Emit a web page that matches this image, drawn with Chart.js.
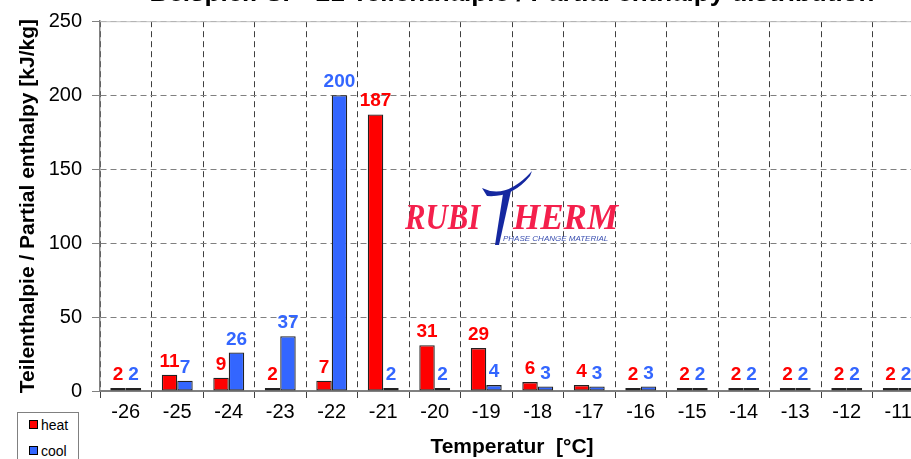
<!DOCTYPE html>
<html>
<head>
<meta charset="utf-8">
<script src="https://cdn.jsdelivr.net/npm/chart.js@4/dist/chart.umd.min.js"></script>
<style>
html,body{margin:0;padding:0;background:#fff;overflow:hidden;width:911px;height:459px;}
#wrap{position:absolute;left:0;top:-40px;width:940px;height:500px;}
#legend{position:absolute;left:17px;top:412px;width:60px;height:60px;border:1px solid #808080;background:#fff;
 font-family:Arial,"Liberation Sans",sans-serif;font-size:14px;color:#000;}
#legend div{position:absolute;left:11px;height:16px;line-height:16px;}
#legend span{display:inline-block;width:7px;height:7px;border:1px solid #000;margin-right:3px;vertical-align:1px;}
</style>
</head>
<body>
<div id="wrap"><canvas id="chart" width="940" height="500"></canvas></div>
<div id="legend"></div>
<script>
const temps = ["-26","-25","-24","-23","-22","-21","-20","-19","-18","-17","-16","-15","-14","-13","-12","-11"];
const heat = [2,11,9,2,7,187,31,29,6,4,2,2,2,2,2,2];
const cool = [2,7,26,37,200,2,2,4,3,3,3,2,2,2,2,2];
const yTicks = [0,50,100,150,200,250];

const font = 'Arial, "Liberation Sans", sans-serif';
const red = '#ff0000';
const blue = '#3366ff';

// value labels above bars
const valueLabels = {
  id:'valueLabels',
  afterDatasetsDraw(chart){
    const c = chart.ctx;
    c.save();
    c.font = 'bold 19px ' + font;
    c.textAlign = 'center';
    c.textBaseline = 'alphabetic';
    chart.data.datasets.forEach((ds,i)=>{
      chart.getDatasetMeta(i).data.forEach((bar,j)=>{
        c.fillStyle = ds.backgroundColor;
        c.fillText(ds.data[j], bar.x, bar.y - 8);
      });
    });
    c.restore();
  }
};

// company logo in the plot + top frame line
const logo = {
  id:'logo',
  beforeDatasetsDraw(chart){
    const c = chart.ctx, a = chart.chartArea;
    c.save();
    c.strokeStyle = '#c0c0c0';
    c.lineWidth = 1;
    c.beginPath();
    c.moveTo(a.left, a.top + 0.5);
    c.lineTo(a.right, a.top + 0.5);
    c.stroke();

    const oy = 40;
    c.fillStyle = '#f4204c';
    c.font = 'italic bold 35px "Liberation Serif", "DejaVu Serif", serif';
    c.textBaseline = 'alphabetic';
    c.textAlign = 'left';
    c.save();
    c.translate(405, 229 + oy);
    c.scale(0.88, 1);
    c.fillText('RUBI', 0, 0);
    c.restore();
    c.fillText('HERM', 513, 229 + oy);

    // blue swoosh T
    c.fillStyle = '#1528a0';
    c.beginPath();
    c.moveTo(482, 188 + oy);
    c.quadraticCurveTo(506, 200 + oy, 532, 171 + oy);
    c.lineTo(530, 176 + oy);
    c.quadraticCurveTo(512, 198 + oy, 487, 196 + oy);
    c.closePath();
    c.fill();
    c.beginPath();
    c.moveTo(503, 194 + oy);
    c.lineTo(511, 191 + oy);
    c.lineTo(499, 245 + oy);
    c.lineTo(495, 245 + oy);
    c.closePath();
    c.fill();

    c.fillStyle = '#3a4fb0';
    c.font = 'italic 8px Arial, "Liberation Sans", sans-serif';
    c.fillText('PHASE CHANGE MATERIAL', 503, 241 + oy);
    c.restore();
  }
};

new Chart(document.getElementById('chart'), {
  type:'bar',
  data:{
    labels:temps,
    datasets:[
      {label:'heat', data:heat, backgroundColor:red, borderColor:'#222', borderWidth:1.3, borderSkipped:false,
       categoryPercentage:0.6, barPercentage:1.0},
      {label:'cool', data:cool, backgroundColor:blue, borderColor:'#222', borderWidth:1.3, borderSkipped:false,
       categoryPercentage:0.6, barPercentage:1.0}
    ]
  },
  options:{
    responsive:false,
    animation:false,
    layout:{padding:{left:0, right:16, top:0, bottom:0}},
    plugins:{
      legend:{display:false},
      tooltip:{enabled:false},
      title:{
        display:true,
        fullSize:false,
        text:'Beispiel: SP -21 Teilenthalpie / Partial enthalpy distribution',
        color:'#000',
        font:{family:font, size:26, weight:'bold'},
        padding:{top:18, bottom:12}
      }
    },
    scales:{
      x:{
        grid:{offset:true, color:'#404040', lineWidth:1, tickLength:7, tickColor:'#404040'},
        border:{display:true, color:'#808080', width:2, dash:[6,4]},
        ticks:{color:'#000', font:{family:font, size:20}, padding:2, maxRotation:0, autoSkip:false},
        title:{display:true, text:'Temperatur  [°C]', color:'#000',
               font:{family:font, size:21, weight:'bold'}, padding:{top:0, bottom:0}},
        afterFit(s){ s.height = 69; }
      },
      y:{
        min:0, max:250,
        afterBuildTicks(s){ s.ticks = yTicks.map(v=>({value:v})); },
        grid:{color:'#808080', lineWidth:1, tickLength:8, tickColor:'#808080'},
        border:{display:true, color:'#808080', width:1.5, dash:[6,4]},
        ticks:{color:'#000', font:{family:font, size:20}, padding:10},
        title:{display:true, text:'Teilenthalpie / Partial enthalpy [kJ/kg]', color:'#000',
               font:{family:font, size:21, weight:'bold'}, padding:{top:16, bottom:0}},
        afterFit(s){ s.width = 100; }
      }
    }
  },
  plugins:[logo, valueLabels]
});

// legend box
const lg = document.getElementById('legend');
[['heat',red,4],['cool',blue,30]].forEach(([name,col,top])=>{
  const d = document.createElement('div');
  d.style.top = top + 'px';
  d.innerHTML = '<span style="background:'+col+'"></span>' + name;
  lg.appendChild(d);
});
</script>
</body>
</html>
